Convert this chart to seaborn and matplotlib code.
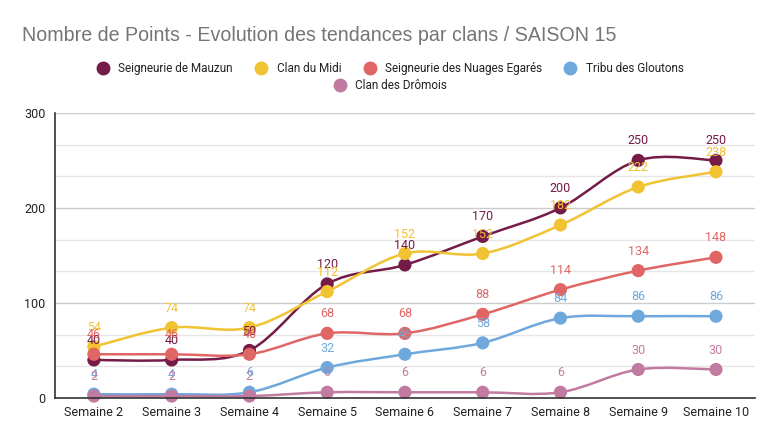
import numpy as np
import pandas as pd
import matplotlib
matplotlib.use("Agg")
import matplotlib.pyplot as plt
from matplotlib.path import Path
from matplotlib.patches import PathPatch
from matplotlib.lines import Line2D
import seaborn as sns

# =============================================================================
# DATA
# =============================================================================
weeks = ["Semaine 2", "Semaine 3", "Semaine 4", "Semaine 5", "Semaine 6",
         "Semaine 7", "Semaine 8", "Semaine 9", "Semaine 10"]
clans = ["Seigneurie de Mauzun", "Clan du Midi", "Seigneurie des Nuages Egarés",
         "Tribu des Gloutons", "Clan des Drômois"]

mauzun = [40, 40, 50, 120, 140, 170, 200, 250, 250]
midi = [54, 74, 74, 112, 152, 152, 182, 222, 238]
nuages = [46, 46, 46, 68, 68, 88, 114, 134, 148]
gloutons = [4, 4, 6, 32, 46, 58, 84, 86, 86]
dromois = [2, 2, 2, 6, 6, 6, 6, 30, 30]

colors = ["#741b47", "#f1c232", "#e06666", "#6fa8dc", "#c27ba0"]

series = dict(zip(clans, [mauzun, midi, nuages, gloutons, dromois]))
palette = dict(zip(clans, colors))

df = pd.DataFrame([
    {"clan": c, "semaine": w, "x": i, "points": v}
    for c in clans for i, (w, v) in enumerate(zip(weeks, series[c]))
])

# =============================================================================
# PLOT
# =============================================================================
sns.set_theme(style="white")
plt.rcParams["font.family"] = ["Roboto", "DejaVu Sans"]

fig = plt.figure(figsize=(7.75, 4.4), dpi=100)
ax = fig.add_axes([0.071, 0.0955, 0.903, 0.648])

# grid: minor every 33.3, major every 100
for y in np.arange(0, 301, 100 / 3):
    major = abs(y / 100 - round(y / 100)) < 1e-6
    ax.axhline(y, color="#cccccc" if major else "#e6e6e6", lw=1, zorder=0)


def smooth_path(xs, ys, k=1.0):
    """Cardinal spline through the points, as cubic Bezier segments."""
    xs, ys = np.asarray(xs, float), np.asarray(ys, float)
    verts = [(xs[0], ys[0])]
    codes = [Path.MOVETO]
    n = len(xs)
    for i in range(n - 1):
        x0, y0 = (xs[i - 1], ys[i - 1]) if i > 0 else (xs[i], ys[i])
        x3, y3 = (xs[i + 2], ys[i + 2]) if i + 2 < n else (xs[i + 1], ys[i + 1])
        c1 = (xs[i] + k * (xs[i + 1] - x0) / 6, ys[i] + k * (ys[i + 1] - y0) / 6)
        c2 = (xs[i + 1] - k * (x3 - xs[i]) / 6, ys[i + 1] - k * (y3 - ys[i]) / 6)
        verts += [c1, c2, (xs[i + 1], ys[i + 1])]
        codes += [Path.CURVE4] * 3
    return Path(verts, codes)


for z, clan in enumerate(clans):
    sub = df[df.clan == clan]
    patch = PathPatch(smooth_path(sub.x, sub.points), fill=False,
                      edgecolor=palette[clan], lw=1.8, zorder=2 + z, clip_on=False)
    ax.add_patch(patch)
    sns.scatterplot(data=sub, x="x", y="points", color=palette[clan], s=90,
                    edgecolor="none", ax=ax, zorder=2 + z, clip_on=False, legend=False)

# data labels
for clan in clans:
    sub = df[df.clan == clan]
    for _, r in sub.iterrows():
        ax.annotate(f"{r.points}", (r.x, r.points), xytext=(0, 14),
                    textcoords="offset points", ha="center", va="center",
                    fontsize=9, color=palette[clan], zorder=20)

ax.set_xlim(-0.5, 8.5)
ax.set_ylim(0, 300)
ax.set_xticks(range(len(weeks)))
ax.set_xticklabels(weeks, fontsize=9, color="#222222")
ax.set_yticks([0, 100, 200, 300])
ax.set_yticklabels(["0", "100", "200", "300"], fontsize=9, color="#222222")
ax.set_xlabel("")
ax.set_ylabel("")
ax.tick_params(axis="x", length=0, pad=6)
ax.tick_params(axis="y", length=0, pad=7)
for s in ["top", "right"]:
    ax.spines[s].set_visible(False)
for s in ["left", "bottom"]:
    ax.spines[s].set_color("#333333")
    ax.spines[s].set_linewidth(1.2)
    ax.spines[s].set_zorder(30)

fig.text(0.028, 0.92, "Nombre de Points - Evolution des tendances par clans / SAISON 15",
         fontsize=14.1, color="#757575", ha="left", va="center",
         family=["Liberation Sans", "DejaVu Sans"])

handles = [Line2D([], [], marker="o", ls="", markersize=9, color=palette[c],
                  label=c) for c in clans]
leg1 = fig.legend(handles=handles[:4], loc="center", bbox_to_anchor=(0.5, 0.845),
                  ncol=4, frameon=False, fontsize=8.5, handletextpad=0.3,
                  columnspacing=1.4)
leg2 = fig.legend(handles=handles[4:], loc="center", bbox_to_anchor=(0.5, 0.805),
                  ncol=1, frameon=False, fontsize=8.5, handletextpad=0.3)
for leg in (leg1, leg2):
    for t in leg.get_texts():
        t.set_color("#222222")

fig.savefig("out.png", dpi=100)
